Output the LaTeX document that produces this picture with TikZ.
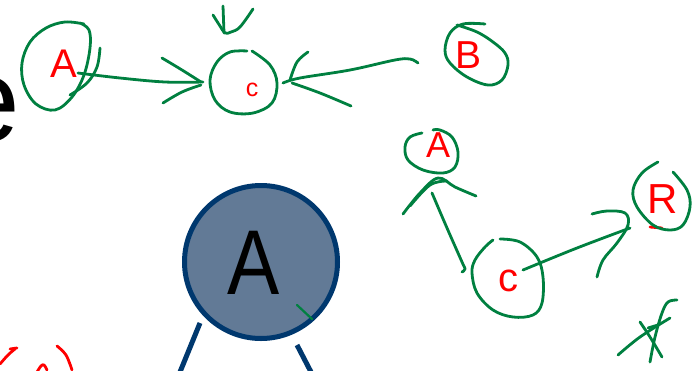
\documentclass[tikz,border=0pt]{standalone}
\usepackage{fontspec}
\newfontfamily\slidefont{Liberation Sans}
\definecolor{ink}{RGB}{0,128,64}
\definecolor{redink}{RGB}{255,0,0}
\definecolor{navy}{RGB}{0,56,110}
\definecolor{slate}{RGB}{98,122,150}
\begin{document}
\begin{tikzpicture}[x=1pt,y=-1pt,
  pen/.style={draw=ink,line width=2.8pt,line cap=round,line join=round},
  rpen/.style={draw=redink,line width=2.8pt,line cap=round,line join=round},
  redletter/.style={text=redink,inner sep=0pt},
  treeline/.style={draw=navy,line width=5pt}]
\useasboundingbox (0,0) rectangle (693,370);
\clip (0,0) rectangle (693,370);

% slide content
\node[anchor=base west,inner sep=0pt,font=\slidefont\fontsize{120}{120}\selectfont] (bige) at (-47,141) {e};
\node[circle,draw=navy,line width=5pt,fill=slate,minimum size=153pt,inner sep=0pt] (bigA) at (261,262) {};
\node[font=\slidefont\fontsize{92}{92}\selectfont,inner sep=0pt] (bigAtext) at (254,263) {\scalebox{0.85}[1]{A}};
\coordinate (lc) at (180,372);
\coordinate (rc) at (311,372);
\draw[treeline] (200,323) -- (lc);
\draw[treeline] (297,345) -- (rc);
\draw[pen,line width=2.2pt] (297,305) -- (312,319);

% letters
\node[redletter,font=\slidefont\fontsize{40}{40}\selectfont] (A1) at (64,64) {A};
\node[redletter,font=\slidefont\fontsize{25}{25}\selectfont] (c1) at (252,90) {c};
\node[redletter,font=\slidefont\fontsize{39}{39}\selectfont] (B1) at (468,55) {B};
\node[redletter,font=\slidefont\fontsize{36}{36}\selectfont] (A2) at (438,145) {A};
\node[redletter,font=\slidefont\fontsize{40}{40}\selectfont] (c2) at (508,281) {c};
\node[redletter,font=\slidefont\fontsize{42}{42}\selectfont] (R1) at (663,199) {R};
\draw[rpen] (650,227) -- (662,228);

% top-left A circle
\draw[pen] plot[smooth,tension=0.6] coordinates {(80,23) (89,30) (90,48) (84,75) (72,97) (55,110) (36,104) (24,85) (22,63) (30,42) (46,28) (65,22) (84,24)};
\draw[pen] plot[smooth,tension=0.6] coordinates {(100,48) (97,67) (87,83) (70,95)};

% A -> c
\draw[pen] plot[smooth,tension=0.6] coordinates {(78,73) (120,78) (165,82) (203,82)};
\draw[pen] plot[smooth,tension=0.6] coordinates {(162,58) (182,70) (201,82)};
\draw[pen] plot[smooth,tension=0.6] coordinates {(163,103) (182,92) (201,85)};

% c circle
\draw[pen] plot[smooth,tension=0.6] coordinates {(252,51) (270,65) (277,83) (272,103) (253,113) (230,112) (215,100) (210,80) (217,62) (230,52) (247,51)};

% arrow from above
\draw[pen] plot[smooth,tension=0.6] coordinates {(213,15) (220,26) (225,33) (231,32) (240,27) (253,9)};
\draw[pen] (223,6) -- (224,33);

% B circle
\draw[pen] plot[smooth,tension=0.6] coordinates {(485,24) (463,24) (450,33) (445,50) (450,63) (467,77) (488,85) (502,80) (508,65) (505,53) (493,42) (477,32) (457,25)};

% B -> c
\draw[pen] plot[smooth,tension=0.6] coordinates {(418,63) (410,59) (395,60) (350,70) (300,78) (283,83)};
\draw[pen] plot[smooth,tension=0.6] coordinates {(308,52) (297,62) (290,80)};
\draw[pen] plot[smooth,tension=0.6] coordinates {(292,83) (320,93) (351,106)};

% right A circle
\draw[pen] plot[smooth,tension=0.6] coordinates {(422,133) (410,137) (405,147) (408,160) (423,170) (443,173) (455,167) (458,152) (452,137) (440,130) (433,130)};

% C -> A
\draw[pen] plot[smooth,tension=0.6] coordinates {(403,214) (420,193) (438,178) (455,187) (476,196)};
\draw[pen] plot[smooth,tension=0.6] coordinates {(410,206) (430,185) (447,181)};
\draw[pen] plot[smooth,tension=0.6] coordinates {(432,193) (447,228) (462,262) (465,269) (462,272)};

% C circle
\draw[pen] plot[smooth,tension=0.6] coordinates {(500,239) (520,242) (537,257) (543,277) (542,303) (533,315) (513,317) (493,310) (477,293) (472,273) (475,260) (485,247) (493,240)};

% C -> R
\draw[pen] plot[smooth,tension=0.6] coordinates {(523,270) (577,248) (630,228)};
\draw[pen] plot[smooth,tension=0.6] coordinates {(592,214) (607,211) (625,213) (628,225) (617,243) (603,260) (597,277)};

% R circle
\draw[pen] plot[smooth,tension=0.6] coordinates {(673,172) (687,190) (690,207) (683,225) (670,230) (653,225) (637,207) (633,190) (642,173) (658,162)};

% cross mark
\draw[pen] plot[smooth,tension=0.6] coordinates {(618,355) (640,337) (670,318)};
\draw[pen] plot[smooth,tension=0.6] coordinates {(640,322) (650,337) (662,357)};
\draw[pen] plot[smooth,tension=0.6] coordinates {(677,300) (668,302) (662,313) (655,337) (650,362)};
\draw[pen] (648,328) -- (658,325);

% red strokes bottom left
\draw[rpen] plot[smooth,tension=0.6] coordinates {(0,364) (8,355) (15,349)};
\draw[rpen] (10,349) -- (17,348);
\draw[rpen] plot[smooth,tension=0.6] coordinates {(57,346) (66,355) (72,370)};
\draw[rpen] plot[smooth,tension=0.6] coordinates {(37,372) (41,366) (44,365) (47,370)};
\end{tikzpicture}
\end{document}
